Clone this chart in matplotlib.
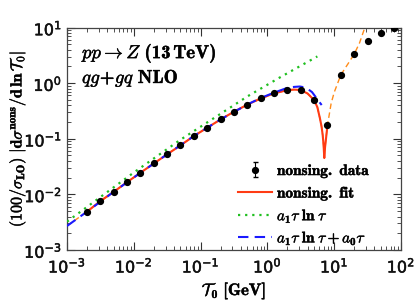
import matplotlib
matplotlib.use("Agg")
import matplotlib.pyplot as plt
import matplotlib.patheffects as pe
from matplotlib.ticker import FixedLocator, LogLocator, NullFormatter

plt.rcParams['mathtext.fontset'] = 'custom'
plt.rcParams['mathtext.rm'] = 'cmb10'
plt.rcParams['mathtext.bf'] = 'cmb10'
plt.rcParams['mathtext.it'] = 'cmmi10'
plt.rcParams['mathtext.cal'] = 'cmsy10'
plt.rcParams['mathtext.sf'] = 'cmss10'
plt.rcParams['mathtext.tt'] = 'cmtt10'
plt.rcParams['mathtext.fallback'] = 'cm'
plt.rcParams['axes.unicode_minus'] = True

# ---- data ----
data_x = [0.002, 0.00316, 0.005, 0.00794, 0.0126, 0.02, 0.0316, 0.05, 0.0794, 0.126,
          0.2, 0.316, 0.5, 0.794, 1.26, 2.0, 3.16, 5.0, 7.94, 12.6, 20.0, 31.6, 50.0, 79.4]
data_y = [0.00486, 0.0076, 0.0111, 0.01665, 0.0245, 0.036, 0.0525, 0.076, 0.112, 0.158,
          0.223, 0.306, 0.409, 0.532, 0.655, 0.751, 0.751, 0.497, 0.176, 1.415, 3.34, 5.65, 8.06, 9.66]
data_err = [0.0, 0.0, 0.0, 0.0, 0.0, 0.0, 0.0, 0.0, 0.0, 0.0, 0.0, 0.0,
            0.0, 0.0, 0.0, 0.0, 0.0, 0.0, 0.0, 0.0, 0.0, 0.0, 0.0, 0.0]

fit_x = [0.002, 0.00316, 0.005, 0.00794, 0.0126, 0.02, 0.0316, 0.05, 0.0794, 0.126,
         0.2, 0.316, 0.5, 0.794, 1.26, 2.0, 2.5, 3.16, 4.0, 5.0, 5.6, 6.12, 6.45, 6.73,
         6.95, 7.11, 7.3, 7.54, 7.94]
fit_y = [0.0049, 0.0076, 0.0111, 0.0166, 0.0245, 0.036, 0.0525, 0.076, 0.112, 0.158,
         0.223, 0.306, 0.41, 0.532, 0.655, 0.748, 0.765, 0.752, 0.65, 0.497, 0.37, 0.233, 0.17, 0.117,
         0.075, 0.045, 0.07, 0.10, 0.176]

ext_x = [0.001, 0.002, 0.005, 0.0126, 0.0316, 0.0794, 0.2, 0.5, 1.26, 2.0, 2.5, 3.16, 4.0,
         5.0, 5.6, 6.12, 6.5, 6.8, 7.11, 7.3, 7.54, 7.94, 9.0, 10.0, 12.6, 16.0, 20.0, 24.0,
         28.8, 31.0]
ext_y = [0.0027, 0.0049, 0.0111, 0.0245, 0.0525, 0.112, 0.223, 0.41, 0.655, 0.748, 0.765,
         0.752, 0.65, 0.497, 0.37, 0.233, 0.16, 0.105, 0.047, 0.07, 0.10, 0.176, 0.43, 0.68,
         1.415, 2.2, 3.34, 5.3, 10.0, 12.5]

lead_x = [0.001, 0.01, 0.0492, 0.2, 0.513, 1.6, 5.6]
lead_y = [0.00323, 0.0247, 0.0948, 0.282, 0.586, 1.30, 3.02]

nlo_x = [0.001, 0.002, 0.005, 0.0126, 0.0316, 0.0794, 0.2, 0.5, 0.794, 1.26, 1.96, 2.5,
         3.07, 3.6, 4.0, 4.66, 5.3, 5.92, 6.5]
nlo_y = [0.0027, 0.0049, 0.0111, 0.0245, 0.0525, 0.112, 0.223, 0.412, 0.54, 0.675, 0.817,
         0.855, 0.869, 0.84, 0.79, 0.69, 0.56, 0.467, 0.404]

xticks = [1e-3, 1e-2, 1e-1, 1e0, 1e1, 1e2]
yticks = [1e-3, 1e-2, 1e-1, 1e0, 1e1]

# ---- figure ----
fig = plt.figure(figsize=(4.15, 3.07), dpi=100)
ax = fig.add_axes([0.1614, 0.1857, 0.8048, 0.7247])
ax.set_xscale('log')
ax.set_yscale('log')

stroke = [pe.withStroke(linewidth=0.35, foreground='#1a1a1a')]

ax.plot(ext_x, ext_y, color='#ff8c1a', lw=1.0, ls=(0, (4, 2.5)), zorder=2)
ax.plot(fit_x, fit_y, color='#ff3b14', lw=1.5, ls='-', zorder=3, label=r'$\mathrm{nonsing.\ fit}$')
ax.plot(lead_x, lead_y, color='#1fbf1f', lw=1.6, ls=(0, (1, 2.2)), zorder=3,
        label=r'$a_1\tau\;\mathrm{ln}\;\tau$')
ax.plot(nlo_x, nlo_y, color='#1a1aff', lw=1.5, ls=(0, (5, 3)), zorder=4,
        label=r'$a_1\tau\;\mathrm{ln}\;\tau+a_0\tau$')
ax.errorbar(data_x, data_y, yerr=data_err, fmt='o', color='black', ms=4.2, capsize=1.8,
            elinewidth=0.8, zorder=5, label=r'$\mathrm{nonsing.\ data}$')

ax.set_xlim(1e-3, 1e2)
ax.set_ylim(1e-3, 1e1)

ax.xaxis.set_major_locator(FixedLocator(xticks))
ax.yaxis.set_major_locator(FixedLocator(yticks))
ax.xaxis.set_minor_locator(LogLocator(base=10, subs=range(2, 10), numticks=20))
ax.yaxis.set_minor_locator(LogLocator(base=10, subs=range(2, 10), numticks=20))
ax.xaxis.set_minor_formatter(NullFormatter())
ax.yaxis.set_minor_formatter(NullFormatter())
ax.tick_params(which='both', direction='in', top=True, right=True, colors='#333333')
ax.tick_params(which='major', length=6, width=0.8, labelsize=11.5, pad=3.5, labelcolor='#111111')
ax.tick_params(axis='x', which='major', pad=5)
ax.tick_params(which='minor', length=3, width=0.6)
for s in ax.spines.values():
    s.set_color('#444444')
    s.set_linewidth(0.9)

ax.set_xlabel(r'$\mathcal{T}_0\ [\mathrm{GeV}]$', fontsize=12, va='center')
ax.xaxis.set_label_coords(0.5, -0.18)
ylab = ax.set_ylabel(r'$\mathbf{(100/}\sigma_{\mathbf{LO}}\mathbf{)}\ \left|\mathbf{d}\sigma^{\mathbf{nons}}'
                     r'\mathbf{/d}\,\mathbf{ln}\,\mathcal{T}_0\right|$',
                     fontsize=11.5, va='center')
ylab.set_math_fontfamily('cm')
ax.yaxis.set_label_coords(-0.15, 0.5)

t1 = ax.text(0.045, 0.885, r'$pp \rightarrow Z\ (13\,\mathrm{TeV})$', transform=ax.transAxes,
             fontsize=13.5, va='center', ha='left')
t2 = ax.text(0.045, 0.773, r'$qg\!+\!gq\ \mathrm{NLO}$', transform=ax.transAxes,
             fontsize=13.5, va='center', ha='left')

h, l = ax.get_legend_handles_labels()
order = [3, 0, 1, 2]
leg = ax.legend([h[i] for i in order], [l[i] for i in order], loc='upper left',
                bbox_to_anchor=(0.512, 0.395), frameon=False, fontsize=11,
                handlelength=2.2, handletextpad=0.35, labelspacing=0.3, borderpad=0.0,
                borderaxespad=0.0)

fig.canvas.draw()
for t in ax.get_xticklabels() + ax.get_yticklabels() + leg.get_texts() + [t1, t2,
          ax.xaxis.label, ax.yaxis.label]:
    t.set_path_effects(stroke)

fig.savefig('out.png', dpi=100)
